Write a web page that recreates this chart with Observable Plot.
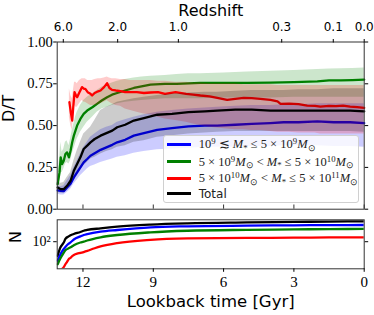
<!DOCTYPE html>
<html><head><meta charset="utf-8">
<script src="https://cdn.jsdelivr.net/npm/d3@7"></script>
<script src="https://cdn.jsdelivr.net/npm/@observablehq/plot@0.6"></script>
<style>
body{margin:0;background:#fff;}
#c{position:relative;width:374px;height:315px;overflow:hidden;font-family:"DejaVu Sans",sans-serif;}
#c svg{position:absolute;left:0;}
.leg{position:absolute;left:162.7px;top:135px;width:194px;height:66px;border:1px solid #d0d0d0;border-radius:3px;background:rgba(255,255,255,0.8);}
.row{position:absolute;left:0;height:16px;line-height:16px;white-space:nowrap;}
.sw{position:absolute;left:3px;top:6.8px;width:24px;height:2.6px;}
.lt{position:absolute;left:35px;top:0;font-family:"Liberation Serif",serif;font-size:12.5px;color:#222;}
.lt.sans{font-family:"DejaVu Sans",sans-serif;font-size:12px;}
.lt sup{font-size:70%;position:relative;top:-0.45em;vertical-align:baseline;}
.lt sub{font-size:70%;position:relative;top:0.3em;vertical-align:baseline;}
</style></head>
<body><div id="c"></div>
<script>
// ---- top panel: D/T vs lookback time ----
const blueT  = [13.08,12.95,12.82,12.68,12.53,12.39,12.25,12.11,11.97,11.82,11.68,11.5,11.25,11.0,10.75,10.54,10.2,9.83,9.4,8.83,8.2,7.5,6.8,6.27,5.5,4.8,4.0,3.44,2.8,2.0,1.3,0.6,0];
const blueV  = [0.112,0.11,0.108,0.13,0.152,0.19,0.22,0.25,0.28,0.30,0.32,0.335,0.355,0.37,0.385,0.40,0.415,0.44,0.455,0.475,0.485,0.495,0.50,0.50,0.505,0.51,0.515,0.52,0.52,0.525,0.52,0.52,0.515];
const blueLo = [0.09,0.085,0.085,0.10,0.12,0.15,0.175,0.20,0.22,0.24,0.255,0.265,0.28,0.29,0.30,0.31,0.32,0.335,0.345,0.355,0.36,0.365,0.37,0.37,0.37,0.375,0.375,0.38,0.38,0.38,0.375,0.375,0.37];
const blueHi = [0.14,0.135,0.14,0.17,0.20,0.25,0.29,0.33,0.37,0.40,0.43,0.45,0.475,0.49,0.50,0.52,0.535,0.55,0.565,0.58,0.59,0.60,0.605,0.61,0.615,0.62,0.62,0.625,0.625,0.63,0.63,0.63,0.63];
const totalV  = [0.13,0.12,0.12,0.14,0.17,0.23,0.27,0.31,0.36,0.38,0.40,0.42,0.44,0.455,0.47,0.49,0.505,0.53,0.545,0.565,0.57,0.58,0.585,0.59,0.595,0.595,0.59,0.59,0.59,0.59,0.59,0.59,0.585];
const totalLo = [0.10,0.095,0.095,0.11,0.13,0.17,0.20,0.23,0.26,0.28,0.30,0.31,0.33,0.345,0.355,0.37,0.38,0.40,0.41,0.43,0.44,0.45,0.455,0.46,0.465,0.465,0.465,0.465,0.465,0.465,0.465,0.465,0.46];
const totalHi = [0.16,0.155,0.16,0.19,0.22,0.29,0.35,0.40,0.45,0.47,0.49,0.53,0.59,0.61,0.625,0.64,0.65,0.66,0.67,0.68,0.69,0.695,0.70,0.70,0.705,0.71,0.71,0.71,0.715,0.715,0.72,0.72,0.72];
const greenT  = [13.08,13.0,12.95,12.89,12.82,12.75,12.68,12.6,12.53,12.46,12.39,12.32,12.25,12.18,12.11,11.97,11.82,11.6,11.4,11.2,10.97,10.76,10.54,10.2,9.83,9.5,9.12,8.5,8.0,7.5,7.0,6.0,5.0,4.0,3.0,2.0,1.5,1.0,0.5,0];
const greenV  = [0.15,0.22,0.31,0.27,0.29,0.33,0.34,0.31,0.35,0.40,0.44,0.47,0.50,0.52,0.54,0.57,0.59,0.61,0.63,0.65,0.67,0.685,0.695,0.71,0.725,0.735,0.745,0.75,0.75,0.752,0.755,0.755,0.755,0.757,0.76,0.765,0.77,0.77,0.772,0.775];
const greenLo = [0.12,0.17,0.22,0.22,0.24,0.27,0.28,0.27,0.29,0.33,0.36,0.39,0.42,0.44,0.46,0.49,0.52,0.55,0.58,0.60,0.61,0.62,0.63,0.64,0.645,0.65,0.655,0.66,0.66,0.66,0.66,0.665,0.665,0.665,0.67,0.67,0.67,0.67,0.67,0.67];
const greenHi = [0.19,0.30,0.40,0.34,0.36,0.40,0.41,0.38,0.42,0.47,0.51,0.55,0.58,0.60,0.62,0.65,0.67,0.69,0.71,0.73,0.745,0.755,0.765,0.775,0.785,0.79,0.795,0.80,0.805,0.81,0.81,0.815,0.82,0.825,0.83,0.835,0.838,0.84,0.842,0.845];
const redT  = [12.58,12.52,12.46,12.41,12.36,12.3,12.25,12.15,12.04,11.95,11.9,11.8,11.68,11.61,11.5,11.35,11.25,11.1,10.97,10.87,10.76,10.6,10.4,10.2,9.97,9.7,9.4,9.12,8.8,8.5,8.05,7.6,7.3,6.99,6.6,6.27,5.85,5.5,5.14,4.8,4.43,4.0,3.7,3.57,3.2,2.8,2.43,2.1,1.87,1.5,1.2,0.9,0.6,0.3,0];
const redV  = [0.64,0.58,0.53,0.62,0.70,0.68,0.67,0.70,0.73,0.72,0.72,0.70,0.69,0.68,0.695,0.705,0.71,0.73,0.754,0.725,0.714,0.71,0.706,0.70,0.70,0.70,0.695,0.698,0.70,0.69,0.70,0.69,0.685,0.68,0.675,0.666,0.654,0.66,0.666,0.664,0.66,0.654,0.645,0.63,0.632,0.628,0.62,0.618,0.614,0.618,0.617,0.62,0.614,0.61,0.606];
const redLo = [0.55,0.50,0.47,0.54,0.62,0.61,0.61,0.63,0.65,0.64,0.64,0.63,0.62,0.62,0.62,0.625,0.63,0.64,0.65,0.64,0.63,0.62,0.615,0.60,0.59,0.58,0.57,0.565,0.55,0.54,0.53,0.52,0.51,0.50,0.49,0.485,0.48,0.475,0.475,0.47,0.47,0.465,0.46,0.46,0.46,0.455,0.455,0.455,0.45,0.45,0.45,0.45,0.45,0.45,0.45];
const redHi = [0.72,0.68,0.66,0.71,0.76,0.76,0.75,0.77,0.78,0.78,0.78,0.77,0.77,0.77,0.775,0.78,0.78,0.785,0.79,0.785,0.78,0.78,0.775,0.775,0.77,0.77,0.77,0.77,0.765,0.765,0.76,0.76,0.755,0.755,0.75,0.75,0.75,0.75,0.745,0.745,0.745,0.745,0.74,0.74,0.74,0.74,0.74,0.74,0.74,0.74,0.74,0.74,0.74,0.74,0.74];

// ---- bottom panel: N vs lookback time ----
const nT     = [13.08,12.96,12.89,12.82,12.75,12.61,12.53,12.39,12.11,11.97,11.82,11.25,10.54,9.12,7.54,5,3,1.5,0];
const nTotal = [41,70,82,95,119,140,150,163,185,200,210,233,260,296,320,338,350,358,364];
const nLow   = [30,45,54,63,72,88,96,115,140,153,162,189,210,248,265,276,282,286,288];
const nMid   = [24,35,42,50,58,66,70,80,95,100,108,132,153,181,200,212,218,222,224];
const nHighT = [12.89,12.82,12.75,12.68,12.61,12.53,12.46,12.39,12.25,12.11,11.97,11.82,11.5,11.25,10.54,9.12,7.54,5,3,1.5,0];
const nHigh  = [18,20,24,28,33,36,40,43,47,49,52,56,66,74,92,113,123,127,129,131,132];

// ---- ticks & labels ----
const yTicks = [0, 0.25, 0.5, 0.75, 1.0];
const xTicks = [12, 9, 6, 3, 0];
const zLookback = [12.84, 10.52, 7.93, 3.52, 1.32, 0];
const zLabels = ["6.0", "2.0", "1.0", "0.3", "0.1", "0.0"];
const nTicks = [100];
const nTickLabels = ["10²"];
const seriesColors = ["blue", "green", "red", "black"];
const seriesLabels = [
  '10<sup>9</sup> ≲ <i>M</i><sub>*</sub> ≤ 5 × 10<sup>9</sup><i>M</i><sub>⊙</sub>',
  '5 × 10<sup>9</sup><i>M</i><sub>⊙</sub> &lt; <i>M</i><sub>*</sub> ≤ 5 × 10<sup>10</sup><i>M</i><sub>⊙</sub>',
  '5 × 10<sup>10</sup><i>M</i><sub>⊙</sub> &lt; <i>M</i><sub>*</sub> ≤ 5 × 10<sup>11</sup><i>M</i><sub>⊙</sub>',
  'Total'
];

const rows = (T, V, L, H) => T.map((t, i) => ({t, v: V[i], lo: L[i], hi: H[i]}));
const blue = rows(blueT, blueV, blueLo, blueHi);
const green = rows(greenT, greenV, greenLo, greenHi);
const red = rows(redT, redV, redLo, redHi);
const total = rows(blueT, totalV, totalLo, totalHi);
const nrows = (T, V) => T.map((t, i) => ({t, n: V[i]}));

const serif = "Liberation Serif";
const lw = 2.3;
const zMap = new Map(zLookback.map((t, i) => [t, zLabels[i]]));
const nMap = new Map(nTicks.map((t, i) => [t, nTickLabels[i]]));

const band = (data, c) => Plot.areaY(data, {x: "t", y1: "lo", y2: "hi", fill: c, fillOpacity: 0.2});
const line = (data, c) => Plot.lineY(data, {x: "t", y: "v", stroke: c, strokeWidth: lw});

const topPlot = Plot.plot({
  width: 374, height: 213,
  marginTop: 41.5, marginBottom: 4.3, marginLeft: 56.7, marginRight: 10.3,
  x: {domain: [13.1, 0]},
  y: {domain: [0, 1]},
  style: {background: "transparent", overflow: "visible", fontFamily: "DejaVu Sans"},
  marks: [
    band(blue, seriesColors[0]), line(blue, seriesColors[0]),
    band(green, seriesColors[1]), line(green, seriesColors[1]),
    band(red, seriesColors[2]), line(red, seriesColors[2]),
    band(total, "black"), line(total, seriesColors[3]),
    Plot.frame({stroke: "#333"}),
    Plot.axisY(yTicks, {tickSize: 3.5, tickPadding: 1, fontSize: 14.5, fontFamily: serif, tickFormat: d3.format(".2f"), label: null}),
    Plot.axisY(yTicks, {anchor: "right", tickSize: 3.5, tickFormat: () => "", label: null}),
    Plot.axisX(zLookback, {anchor: "top", tickSize: 3.5, tickPadding: 8, fontSize: 12, tickFormat: d => zMap.get(d), label: null}),
    Plot.tickX(xTicks, {x: d => d, insetTop: 163, stroke: "#333"}),
    Plot.text(["Redshift"], {text: d => d, frameAnchor: "top", lineAnchor: "bottom", dy: -26.5, fontSize: 16}),
    Plot.text(["D/T"], {text: d => d, frameAnchor: "left", dx: -48.2, dy: -3.5, rotate: -90, fontSize: 16})
  ]
});
topPlot.style.top = "0px";

const botPlot = Plot.plot({
  width: 374, height: 102,
  marginTop: 6.3, marginBottom: 46.7, marginLeft: 56.7, marginRight: 10.3,
  x: {domain: [13.1, 0]},
  y: {type: "log", domain: [18, 400]},
  style: {background: "transparent", overflow: "visible", fontFamily: "DejaVu Sans"},
  marks: [
    Plot.lineY(nrows(nT, nTotal), {x: "t", y: "n", stroke: "black", strokeWidth: lw, curve: "monotone-x", clip: true}),
    Plot.lineY(nrows(nT, nLow), {x: "t", y: "n", stroke: "blue", strokeWidth: lw, curve: "monotone-x", clip: true}),
    Plot.lineY(nrows(nT, nMid), {x: "t", y: "n", stroke: "green", strokeWidth: lw, curve: "monotone-x", clip: true}),
    Plot.lineY(nrows(nHighT, nHigh), {x: "t", y: "n", stroke: "red", strokeWidth: lw, curve: "monotone-x", clip: true}),
    Plot.frame({stroke: "#333"}),
    Plot.axisY(nTicks, {tickSize: 3.5, tickPadding: 3, fontSize: 14, fontFamily: serif, tickFormat: d => nMap.get(d), label: null}),
    Plot.axisY(nTicks, {anchor: "right", tickSize: 3.5, tickFormat: () => "", label: null}),
    Plot.axisX(xTicks, {tickSize: 3.5, tickPadding: 4.2, fontSize: 15, fontFamily: serif, tickFormat: d => String(d), label: null}),
    Plot.text(["Lookback time [Gyr]"], {text: d => d, frameAnchor: "bottom", lineAnchor: "bottom", dy: 38.2, fontSize: 16.5}),
    Plot.text(["N"], {text: d => d, frameAnchor: "left", dx: -41.7, dy: -1.3, rotate: -90, fontSize: 16})
  ]
});
botPlot.style.top = "213px";

const c = document.getElementById("c");
c.appendChild(topPlot);
c.appendChild(botPlot);

const leg = document.createElement("div");
leg.className = "leg";
const centers = [8.3, 25.7, 42.3, 57.7];
seriesLabels.forEach((lab, i) => {
  const r = document.createElement("div");
  r.className = "row";
  r.style.top = (centers[i] - 8) + "px";
  r.innerHTML = `<span class="sw" style="background:${seriesColors[i]}"></span><span class="lt${i === 3 ? " sans" : ""}">${lab}</span>`;
  leg.appendChild(r);
});
c.appendChild(leg);
</script>
</body></html>
